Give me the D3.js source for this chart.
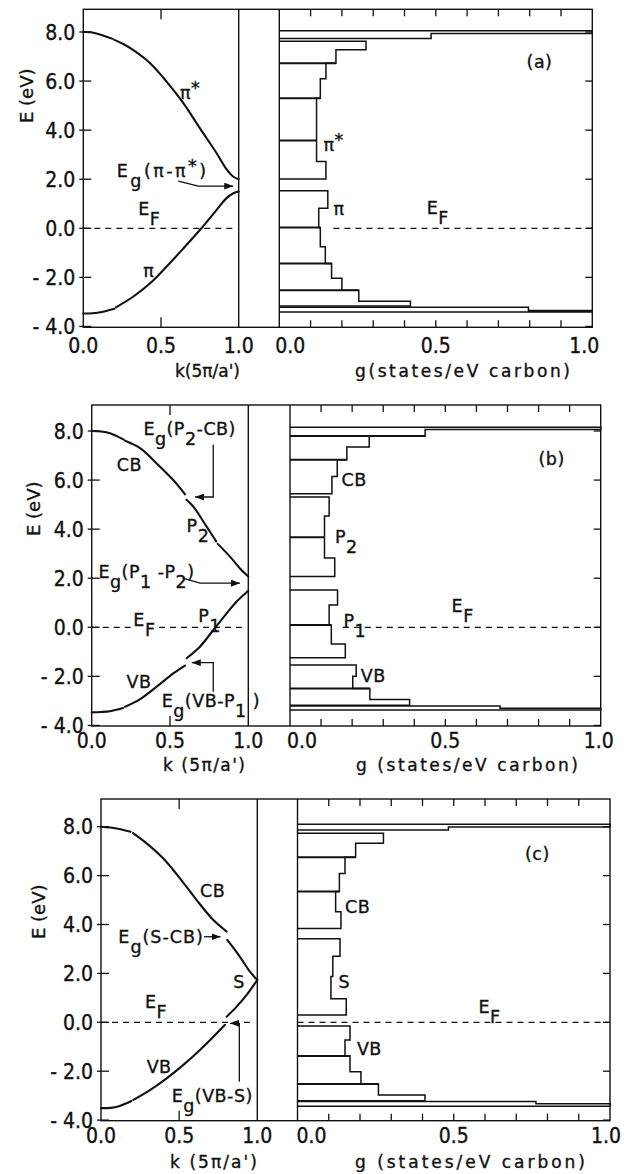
<!DOCTYPE html>
<html>
<head>
<meta charset="utf-8">
<script src="https://cdn.jsdelivr.net/npm/d3@7"></script>
<style>
body { margin: 0; background: #fff; }
svg { display: block; }
text { font-family: "DejaVu Sans", sans-serif; fill: #111; stroke: #111; stroke-width: 0.35px; }
text.num { font-family: "DejaVu Sans Condensed", "DejaVu Sans", sans-serif; font-stretch: condensed; }
</style>
</head>
<body>
<script>
// tick values / labels
var eTicks = [-4, -2, 0, 2, 4, 6, 8];
var eTickLabels = ["- 4.0", "- 2.0", "0.0", "2.0", "4.0", "6.0", "8.0"];
var kTicks = [0, 0.5, 1];
var kTickLabels = ["0.0", "0.5", "1.0"];
var gTicks = [0, 0.5, 1];
var gTickLabels = ["0.0", "0.5", "1.0"];
var gMinorTicks = [0.1, 0.2, 0.3, 0.4, 0.5, 0.6, 0.7, 0.8, 0.9];

// band segments [k, E]
var bandsA = [
  [[0, 8.0], [0.05, 7.99], [0.107, 7.9], [0.19, 7.72]],
  [[0.2, 7.68], [0.26, 7.5], [0.32, 7.27], [0.43, 6.73], [0.536, 5.98], [0.644, 5.10], [0.75, 4.08], [0.858, 3.06], [0.92, 2.42], [0.966, 2.1], [1.0, 2.0]],
  [[0, -3.47], [0.06, -3.46], [0.12, -3.41], [0.2, -3.28]],
  [[0.21, -3.22], [0.32, -2.79], [0.43, -2.24], [0.536, -1.56], [0.644, -0.82], [0.75, -0.07], [0.858, 0.75], [0.92, 1.22], [0.966, 1.43], [1.0, 1.5]]
];
var bandsB = [
  [[0, 8.0], [0.06, 7.98], [0.117, 7.91], [0.205, 7.65]],
  [[0.213, 7.6], [0.309, 7.30], [0.415, 6.68], [0.521, 6.0], [0.596, 5.42]],
  [[0.605, 5.2], [0.649, 4.92], [0.734, 4.10], [0.795, 3.5]],
  [[0.805, 3.4], [0.883, 2.88], [0.947, 2.40], [1.0, 2.07]],
  [[0, -3.46], [0.06, -3.45], [0.117, -3.42], [0.2, -3.29]],
  [[0.213, -3.24], [0.309, -2.93], [0.415, -2.42], [0.521, -1.88], [0.596, -1.56]],
  [[0.606, -1.26], [0.691, -0.79], [0.777, -0.11], [0.862, 0.57], [0.926, 1.05], [1.0, 1.49]]
];
var bandsC = [
  [[0, 8.0], [0.1, 7.93], [0.19, 7.79]],
  [[0.205, 7.74], [0.292, 7.32], [0.399, 6.70], [0.505, 5.89], [0.612, 5.0], [0.719, 4.18], [0.804, 3.71]],
  [[0.808, 3.37], [0.889, 2.68], [0.953, 2.07], [1.0, 1.73]],
  [[1.0, 1.73], [0.932, 1.12], [0.868, 0.64], [0.804, 0.23]],
  [[0, -3.51], [0.06, -3.5], [0.12, -3.42], [0.195, -3.22]],
  [[0.207, -3.17], [0.313, -2.77], [0.42, -2.29], [0.527, -1.74], [0.633, -1.13], [0.719, -0.59], [0.793, -0.1]]
];

// density of states histograms: bin edges (E, top to bottom), g per bin (null = empty), divider lines
var dosEdgesA = [8.05, 7.94, 7.74, 7.62, 7.28, 6.73, 6.09, 5.30, 3.58, 2.72, 2.01, 1.53, 0.82, 0.03, -0.75, -1.43, -2.04, -2.52, -2.97, -3.17, -3.22, -3.35, -3.41];
var dosGA = [1.0, 0.485, null, 0.277, 0.181, 0.149, 0.131, 0.119, 0.119, 0.149, null, 0.155, 0.126, 0.131, 0.147, 0.167, 0.20, 0.254, 0.419, null, 0.796, 1.0];
var dosDivA = [6.73, 5.30, 3.58, 0.03, -1.43, -2.52];

var dosEdgesB = [8.15, 8.06, 7.80, 7.35, 6.83, 6.15, 5.44, 5.31, 4.54, 3.67, 2.82, 2.07, 1.52, 0.91, 0.09, -0.68, -1.24, -1.54, -1.99, -2.49, -2.94, -3.18, -3.21, -3.30, -3.37];
var dosGB = [1.0, 0.435, 0.255, 0.183, 0.152, 0.135, null, 0.126, 0.111, 0.111, 0.144, null, 0.153, 0.126, 0.133, 0.178, null, 0.213, 0.202, 0.257, 0.385, null, 0.676, 1.0];
var dosDivB = [7.80, 6.83, 3.67, 0.09, -2.49];

var dosEdgesC = [8.10, 7.99, 7.86, 7.73, 7.32, 6.75, 6.09, 5.35, 4.52, 3.84, 3.42, 2.70, 1.87, 0.96, 0.30, -0.15, -0.72, -1.38, -2.02, -2.52, -2.97, -3.21, -3.24, -3.33, -3.43];
var dosGC = [1.0, 0.483, null, 0.275, 0.186, 0.152, 0.134, 0.122, 0.139, null, 0.136, 0.113, 0.107, 0.156, null, 0.168, 0.152, 0.168, 0.203, 0.259, 0.408, null, 0.763, 1.0];
var dosDivC = [6.75, 5.35, -1.38, -2.52];

// Fermi level dashes (k or g ranges)
var efBandA = [[0, 0.966]], efDosA = [[0.173, 1]];
var efBandB = [[0, 0.25], [0.43, 0.99]], efDosB = [[0.17, 1]];
var efBandC = [[0, 0.953]], efDosC = [[0, 1]];

// gap arrows, in [k, E]
var arrowsA = [[[0.611, 1.92], [0.74, 1.72], [0.965, 1.72]]];
var arrowsB = [
  [[0.776, 7.44], [0.776, 5.31], [0.66, 5.31]],
  [[0.581, 2.0], [0.692, 1.80], [0.947, 1.80]],
  [[0.776, -2.63], [0.776, -1.44], [0.639, -1.44]]
];
var arrowsC = [
  [[0.659, 3.50], [0.765, 3.50]],
  [[0.885, -2.43], [0.885, -0.04], [0.825, -0.04]]
];

// labels: parts [text, 0 normal / 1 sub / -1 sup], at [k or g, E]
var labelsBandA = [
  {parts: [["π", 0], ["*", -1]], at: [0.622, 5.27]},
  {parts: [["E", 0], ["g", 1], ["(π-π", 0], ["*", -1], [")", 0]], at: [0.215, 2.1], spacing: 2.5},
  {parts: [["E", 0], ["F", 1]], at: [0.354, 0.53]},
  {parts: [["π", 0]], at: [0.386, -1.98]}
];
var labelsDosA = [
  {parts: [["(a)", 0]], at: [0.79, 6.54]},
  {parts: [["π", 0], ["*", -1]], at: [0.141, 3.13]},
  {parts: [["π", 0]], at: [0.173, 0.54]},
  {parts: [["E", 0], ["F", 1]], at: [0.471, 0.58]}
];
var labelsBandB = [
  {parts: [["E", 0], ["g", 1], ["(P", 0], ["2", 1], ["-CB)", 0]], at: [0.33, 7.84]},
  {parts: [["CB", 0]], at: [0.16, 6.35]},
  {parts: [["P", 0], ["2", 1]], at: [0.606, 3.90]},
  {parts: [["E", 0], ["g", 1], ["(P", 0], ["1", 1], [" -P", 0], ["2", 1], [")", 0]], at: [0.043, 2.0]},
  {parts: [["E", 0], ["F", 1]], at: [0.266, 0.05]},
  {parts: [["P", 0], ["1", 1]], at: [0.68, 0.23]},
  {parts: [["VB", 0]], at: [0.223, -2.49]},
  {parts: [["E", 0], ["g", 1], ["(VB-P", 0], ["1", 1], [" )", 0]], at: [0.447, -3.23]}
];
var labelsDosB = [
  {parts: [["(b)", 0]], at: [0.80, 6.62]},
  {parts: [["CB", 0]], at: [0.166, 5.74]},
  {parts: [["P", 0], ["2", 1]], at: [0.145, 3.43]},
  {parts: [["E", 0], ["F", 1]], at: [0.52, 0.64]},
  {parts: [["P", 0], ["1", 1]], at: [0.172, 0.02]},
  {parts: [["VB", 0]], at: [0.228, -2.22]}
];
var labelsBandC = [
  {parts: [["CB", 0]], at: [0.633, 5.14]},
  {parts: [["E", 0], ["g", 1], ["(S-CB)", 0]], at: [0.111, 3.23], spacing: 1},
  {parts: [["S", 0]], at: [0.846, 1.39]},
  {parts: [["E", 0], ["F", 1]], at: [0.281, 0.57]},
  {parts: [["VB", 0]], at: [0.292, -2.08]},
  {parts: [["E", 0], ["g", 1], ["(VB-S)", 0]], at: [0.452, -3.24]}
];
var labelsDosC = [
  {parts: [["(c)", 0]], at: [0.728, 6.64]},
  {parts: [["CB", 0]], at: [0.152, 4.46]},
  {parts: [["S", 0]], at: [0.131, 1.39]},
  {parts: [["E", 0], ["F", 1]], at: [0.579, 0.37]},
  {parts: [["VB", 0]], at: [0.19, -1.34]}
];

// panel layout (pixels)
var panels = [
  {left: 83.3, sep: 238.7, dosL: 279.3, dosR: 592.3, top: 9.3, bottom: 327.3, y0: 228.3, y8: 32,
   tickBase: 353, titleBase: 376.5, kTitle: "k(5π/a')", kX: [175, 240], gTitle: "g(states/eV carbon)", gX: [355, 570],
   eTitleX: 27, eTitleE: 5.4, dos0dx: 11, dos1dx: -8,
   bands: bandsA, edges: dosEdgesA, gs: dosGA, divs: dosDivA, efBand: efBandA, efDos: efDosA,
   arrows: arrowsA, labelsBand: labelsBandA, labelsDos: labelsDosA},
  {left: 91.7, sep: 248.3, dosL: 290, dosR: 600.7, top: 405, bottom: 726, y0: 627.3, y8: 431,
   tickBase: 748, titleBase: 771, kTitle: "k (5π/a')", kX: [163, 245], gTitle: "g (states/eV carbon)", gX: [356, 578],
   eTitleX: 34, eTitleE: 4.83, dos0dx: 12, dos1dx: -2,
   bands: bandsB, edges: dosEdgesB, gs: dosGB, divs: dosDivB, efBand: efBandB, efDos: efDosB,
   arrows: arrowsB, labelsBand: labelsBandB, labelsDos: labelsDosB},
  {left: 101, sep: 257.3, dosL: 297.5, dosR: 610, top: 799, bottom: 1120.7, y0: 1022.3, y8: 826.7,
   tickBase: 1143, titleBase: 1168, kTitle: "k (5π/a')", kX: [170, 257], gTitle: "g (states/eV carbon)", gX: [355, 585],
   eTitleX: 39, eTitleE: 4.52, dos0dx: 14, dos1dx: -4,
   bands: bandsC, edges: dosEdgesC, gs: dosGC, divs: dosDivC, efBand: efBandC, efDos: efDosC,
   arrows: arrowsC, labelsBand: labelsBandC, labelsDos: labelsDosC}
];

var ink = "#111";
var svg = d3.select("body").append("svg").attr("width", 624).attr("height", 1174);

svg.append("defs").append("marker")
  .attr("id", "arrow")
  .attr("markerUnits", "userSpaceOnUse")
  .attr("markerWidth", 9).attr("markerHeight", 7)
  .attr("refX", 9).attr("refY", 3.5)
  .attr("orient", "auto")
  .append("path").attr("d", "M0,0 L9,3.5 L0,7 z").attr("fill", ink);

function richText(g, l, x, y, size) {
  var off = function(s) { return s === 1 ? 10 : (s === -1 ? -5 : 0); };
  var t = g.append("text").attr("x", x).attr("y", y)
    .style("font-size", size + "px").style("letter-spacing", (l.spacing || 0.5) + "px");
  var prev = 0;
  l.parts.forEach(function(p) {
    t.append("tspan").attr("dy", off(p[1]) - off(prev)).text(p[0]);
    prev = p[1];
  });
  return t;
}

panels.forEach(function(p) {
  var g = svg.append("g");
  var x = d3.scaleLinear().domain([0, 1]).range([p.left, p.sep]);
  var xg = d3.scaleLinear().domain([0, 1]).range([p.dosL, p.dosR]);
  var y = d3.scaleLinear().domain([0, 8]).range([p.y0, p.y8]);

  // frame
  g.append("rect").attr("x", p.left).attr("y", p.top)
    .attr("width", p.dosR - p.left).attr("height", p.bottom - p.top)
    .attr("fill", "none").attr("stroke", ink).attr("stroke-width", 1.4);
  [p.sep, p.dosL].forEach(function(xx) {
    g.append("line").attr("x1", xx).attr("x2", xx).attr("y1", p.top).attr("y2", p.bottom)
      .attr("stroke", ink).attr("stroke-width", 1.4);
  });

  // E ticks on the left axis (crossing) and on the right DOS axis (inward)
  g.selectAll(".etick").data(eTicks).enter().append("line")
    .attr("x1", p.left - 4).attr("x2", p.left + 8)
    .attr("y1", function(d) { return y(d); }).attr("y2", function(d) { return y(d); })
    .attr("stroke", ink).attr("stroke-width", 1.3);
  g.selectAll(".etickR").data(eTicks).enter().append("line")
    .attr("x1", p.dosR - 7).attr("x2", p.dosR)
    .attr("y1", function(d) { return y(d); }).attr("y2", function(d) { return y(d); })
    .attr("stroke", ink).attr("stroke-width", 1.3);
  g.selectAll(".elab").data(eTicks).enter().append("text")
    .attr("class", "num")
    .attr("x", p.left - 8).attr("y", function(d) { return y(d); })
    .attr("dy", "0.36em").attr("text-anchor", "end")
    .style("font-size", "21px")
    .text(function(d, i) { return eTickLabels[i]; });

  // k ticks (0.5 only, inward, top and bottom) and g minor ticks
  [p.top, p.bottom].forEach(function(yy, j) {
    g.append("line").attr("x1", x(0.5)).attr("x2", x(0.5))
      .attr("y1", yy).attr("y2", yy + (j === 0 ? 10 : -10))
      .attr("stroke", ink).attr("stroke-width", 1.3);
    g.selectAll(".gt" + j).data(gMinorTicks).enter().append("line")
      .attr("x1", function(d) { return xg(d); }).attr("x2", function(d) { return xg(d); })
      .attr("y1", yy).attr("y2", yy + (j === 0 ? 7 : -7))
      .attr("stroke", ink).attr("stroke-width", 1.3);
  });
  g.selectAll(".klab").data(kTicks).enter().append("text")
    .attr("class", "num")
    .attr("x", function(d) { return x(d); }).attr("y", p.tickBase)
    .attr("text-anchor", "middle").style("font-size", "21px")
    .text(function(d, i) { return kTickLabels[i]; });
  g.selectAll(".glab").data(gTicks).enter().append("text")
    .attr("class", "num")
    .attr("x", function(d) { return xg(d) + (d === 0 ? p.dos0dx : (d === 1 ? p.dos1dx : 0)); })
    .attr("y", p.tickBase)
    .attr("text-anchor", "middle").style("font-size", "21px")
    .text(function(d, i) { return gTickLabels[i]; });

  // axis titles
  g.append("text").attr("x", p.kX[0]).attr("y", p.titleBase)
    .attr("textLength", p.kX[1] - p.kX[0]).attr("lengthAdjust", "spacing")
    .style("font-size", "17px").text(p.kTitle);
  g.append("text").attr("x", p.gX[0]).attr("y", p.titleBase)
    .attr("textLength", p.gX[1] - p.gX[0]).attr("lengthAdjust", "spacing")
    .style("font-size", "17px").text(p.gTitle);
  g.append("text")
    .attr("transform", "translate(" + (p.eTitleX + 6) + "," + y(p.eTitleE) + ") rotate(-90)")
    .attr("text-anchor", "middle").style("font-size", "18px").text("E (eV)");

  // Fermi level dashes
  p.efBand.forEach(function(r) {
    g.append("line").attr("x1", x(r[0])).attr("x2", x(r[1])).attr("y1", y(0)).attr("y2", y(0))
      .attr("stroke", ink).attr("stroke-width", 1.2).attr("stroke-dasharray", "6,5");
  });
  p.efDos.forEach(function(r) {
    g.append("line").attr("x1", xg(r[0])).attr("x2", xg(r[1])).attr("y1", y(0)).attr("y2", y(0))
      .attr("stroke", ink).attr("stroke-width", 1.2).attr("stroke-dasharray", "6,5");
  });

  // bands
  var line = d3.line()
    .x(function(d) { return x(d[0]); })
    .y(function(d) { return y(d[1]); })
    .curve(d3.curveCatmullRom.alpha(0.5));
  g.selectAll(".band").data(p.bands).enter().append("path")
    .attr("d", line).attr("fill", "none")
    .attr("stroke", ink).attr("stroke-width", 2.1).attr("stroke-linecap", "round");

  // DOS histogram blocks (runs of non-empty bins)
  var blocks = [], cur = null;
  p.gs.forEach(function(v, i) {
    if (v === null) { cur = null; return; }
    if (!cur) { cur = []; blocks.push(cur); }
    cur.push({top: p.edges[i], bot: p.edges[i + 1], g: v});
  });
  blocks.forEach(function(b) {
    var path = d3.path();
    path.moveTo(xg(0), y(b[0].top));
    b.forEach(function(bin) {
      path.lineTo(xg(bin.g), y(bin.top));
      path.lineTo(xg(bin.g), y(bin.bot));
    });
    path.lineTo(xg(0), y(b[b.length - 1].bot));
    g.append("path").attr("d", path.toString()).attr("fill", "none")
      .attr("stroke", ink).attr("stroke-width", 1.5);
  });
  p.divs.forEach(function(e) {
    var i = p.edges.indexOf(e);
    var gw = Math.max(p.gs[i - 1] || 0, p.gs[i] || 0);
    g.append("line").attr("x1", xg(0)).attr("x2", xg(gw)).attr("y1", y(e)).attr("y2", y(e))
      .attr("stroke", ink).attr("stroke-width", 2);
  });

  // gap arrows
  var aline = d3.line().x(function(d) { return x(d[0]); }).y(function(d) { return y(d[1]); });
  p.arrows.forEach(function(a) {
    g.append("path").attr("d", aline(a)).attr("fill", "none")
      .attr("stroke", ink).attr("stroke-width", 1.3).attr("marker-end", "url(#arrow)");
  });

  // labels
  p.labelsBand.forEach(function(l) { richText(g, l, x(l.at[0]), y(l.at[1]), 17.5); });
  p.labelsDos.forEach(function(l) { richText(g, l, xg(l.at[0]), y(l.at[1]), 17.5); });
});
</script>
</body>
</html>
